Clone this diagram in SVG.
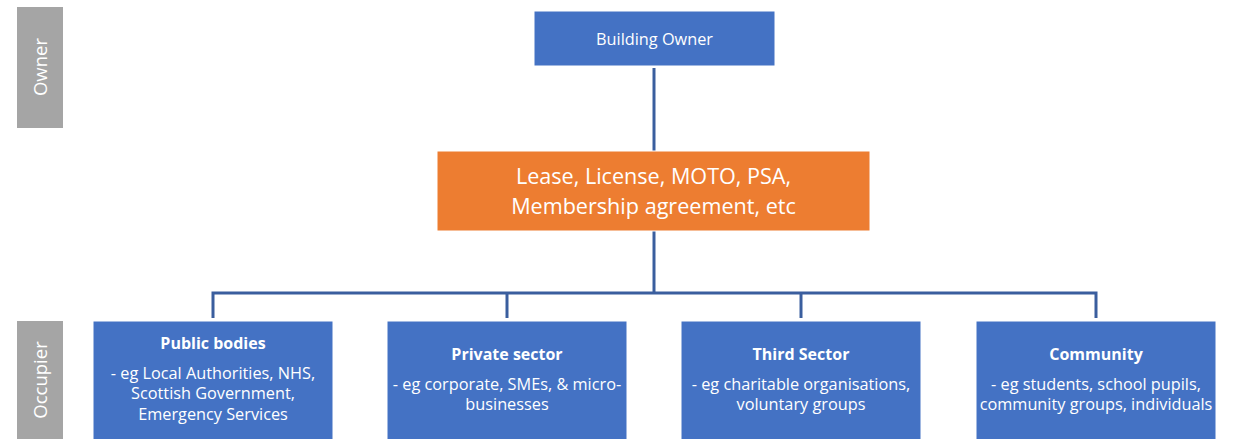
<svg xmlns="http://www.w3.org/2000/svg" width="1234" height="439" viewBox="0 0 1234 439">
<style>
.lane{fill:#a5a5a5}
.lanet{fill:#fff;font-family:"Open Sans","Liberation Sans",sans-serif;font-size:18.5px;text-anchor:middle}
.blue{fill:#4472c4;stroke:#fff;stroke-width:1}
.orange{fill:#ed7d31;stroke:#fff;stroke-width:1}
.t{fill:#fff;font-family:"Open Sans","Liberation Sans",sans-serif;text-anchor:middle}
.s{font-size:16.3px}
.b{font-size:16px;font-weight:bold}
.big{font-size:21.6px}
.conn{fill:none;stroke:#3a5e9e;stroke-width:3}
</style>
<rect width="1234" height="439" fill="#fff"/>
<g id="lane-owner">
<rect class="lane" x="17" y="7" width="46" height="121"/>
<text class="lanet" transform="translate(47,67) rotate(-90)">Owner</text>
</g>
<g id="lane-occupier">
<rect class="lane" x="17" y="321" width="46" height="118"/>
<text class="lanet" transform="translate(47,380) rotate(-90)">Occupier</text>
</g>
<g id="connectors">
<path class="conn" d="M654,68 V151"/>
<path class="conn" d="M654,231 V293"/>
<path class="conn" d="M213,318 V293 H1096 V318"/>
<path class="conn" d="M507,293 V318"/>
<path class="conn" d="M801,293 V318"/>
</g>
<g id="building-owner">
<rect class="blue" x="534" y="11" width="241" height="55"/>
<text class="t s" x="654.5" y="45">Building Owner</text>
</g>
<g id="agreement">
<rect class="orange" x="437" y="151" width="433" height="80"/>
<text class="t big" x="653.5" y="184">Lease, License, MOTO, PSA,</text>
<text class="t big" x="653.5" y="214">Membership agreement, etc</text>
</g>
<g id="public-bodies">
<rect class="blue" x="93" y="321" width="240" height="120"/>
<text class="t b" x="213" y="349">Public bodies</text>
<text class="t s" x="213" y="379">- eg Local Authorities, NHS,</text>
<text class="t s" x="213" y="399">Scottish Government,</text>
<text class="t s" x="213" y="420">Emergency Services</text>
</g>
<g id="private-sector">
<rect class="blue" x="387" y="321" width="240" height="120"/>
<text class="t b" x="507" y="360">Private sector</text>
<text class="t s" x="507" y="390">- eg corporate, SMEs, &amp; micro-</text>
<text class="t s" x="507" y="410">businesses</text>
</g>
<g id="third-sector">
<rect class="blue" x="681" y="321" width="240" height="120"/>
<text class="t b" x="801" y="360">Third Sector</text>
<text class="t s" x="801" y="390">- eg charitable organisations,</text>
<text class="t s" x="801" y="410">voluntary groups</text>
</g>
<g id="community">
<rect class="blue" x="976" y="321" width="240" height="120"/>
<text class="t b" x="1096" y="360">Community</text>
<text class="t s" x="1096" y="390">- eg students, school pupils,</text>
<text class="t s" x="1096" y="410">community groups, individuals</text>
</g>
</svg>
